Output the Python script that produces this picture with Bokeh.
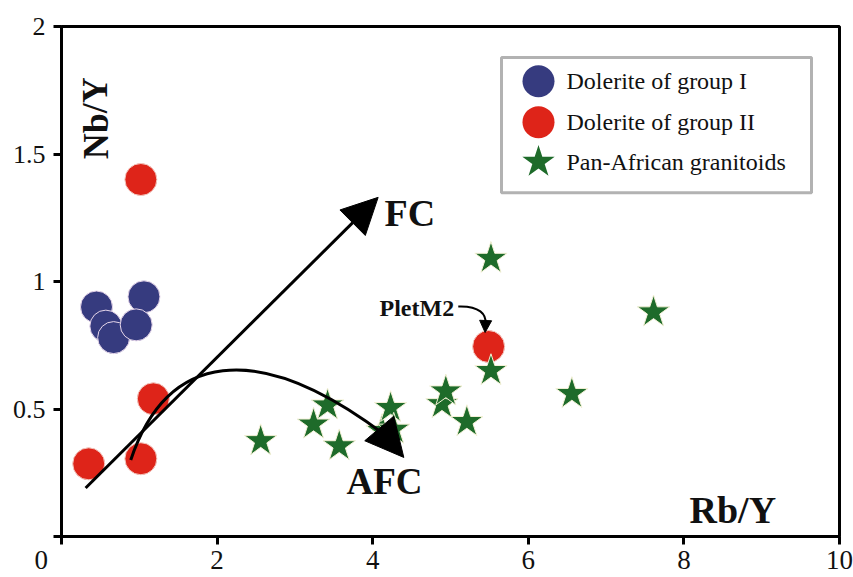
from bokeh.plotting import figure
from bokeh.models import Arrow, NormalHead, Label, Range1d, FixedTicker, BoxAnnotation
from bokeh.embed import file_html
from bokeh.resources import INLINE

# ---- data: Rb/Y (x) and Nb/Y (y) ----
g1_rby = [0.45, 0.57, 0.67, 1.06, 0.96]
g1_nby = [0.90, 0.825, 0.78, 0.94, 0.83]

g2_rby = [1.02, 1.18, 0.35, 1.02, 5.49]
g2_nby = [1.40, 0.54, 0.285, 0.305, 0.745]

gr_rby = [2.56, 3.24, 3.42, 3.57, 4.12, 4.23, 4.27, 4.89, 4.94, 5.21, 5.52, 5.52, 6.56, 7.61]
gr_nby = [0.375, 0.44, 0.515, 0.355, 0.415, 0.505, 0.42, 0.52, 0.57, 0.45, 0.65, 1.09, 0.56, 0.88]

x_ticks = [0, 2, 4, 6, 8, 10]
y_ticks = [0, 0.5, 1, 1.5, 2]

legend_labels = ["Dolerite of group I", "Dolerite of group II", "Pan-African granitoids"]

# trend paths (FC straight, AFC curved) in data units
fc_start, fc_end = (0.31, 0.19), (4.07, 1.33)
afc_path = [(0.89, 0.30), (1.35, 0.72), (2.5, 0.78), (4.15, 0.40)]
afc_tip = (4.40, 0.31)
plet_path = [(5.10, 0.902), (5.38, 0.905), (5.46, 0.87), (5.45, 0.835)]
plet_tip = (5.445, 0.80)

BLUE = "#363b7f"
RED = "#de2419"
GREEN = "#1e6b2a"
SERIF = "Liberation Serif"

# frame geometry (pixels) used for placing the key box
FL, FR, FT, FB = 61, 839, 26, 538
XR, YR = (0, 10), (0, 2)


def sx(px):
    return XR[0] + (px - FL) * (XR[1] - XR[0]) / (FR - FL)


def sy(py):
    return YR[0] + (FB - py) * (YR[1] - YR[0]) / (FB - FT)


p = figure(width=853, height=577, x_range=Range1d(*XR), y_range=Range1d(*YR),
           output_backend="svg", toolbar_location=None,
           min_border_left=FL, min_border_right=853 - FR,
           min_border_top=FT, min_border_bottom=577 - FB)
p.grid.visible = False
p.outline_line_color = "black"
p.outline_line_width = 3
p.background_fill_color = "white"
p.border_fill_color = "white"

p.xaxis.ticker = FixedTicker(ticks=x_ticks)
p.yaxis.ticker = FixedTicker(ticks=y_ticks)
p.axis.axis_line_width = 3
p.axis.axis_line_color = "black"
p.axis.major_tick_line_width = 3
p.axis.major_tick_out = 8
p.axis.major_tick_in = 0
p.axis.minor_tick_line_color = None
p.axis.major_label_text_font = SERIF
p.axis.major_label_text_font_style = "normal"
p.axis.major_label_text_color = "#111111"
p.xaxis.major_label_text_font_size = "27px"
p.yaxis.major_label_text_font_size = "26px"

# the x-axis "0" doubles as the origin label, nudged left with trailing em/en spaces
p.xaxis.major_label_overrides = {0: "0\u2003\u2002"}
p.yaxis.major_label_overrides = {0: ""}
p.xaxis.major_label_standoff = 0
p.yaxis.major_label_standoff = 8

# data points
p.scatter(g1_rby, g1_nby, marker="circle", size=32, fill_color=BLUE,
          line_color="#e6d6ea", line_width=1)
p.scatter(g2_rby, g2_nby, marker="circle", size=32, fill_color=RED,
          line_color="#f3c8c0", line_width=1)
p.scatter(gr_rby, gr_nby, marker="star", size=34, fill_color=GREEN,
          line_color="#f4f1d6", line_width=1)

# FC trend
p.add_layout(Arrow(x_start=fc_start[0], y_start=fc_start[1], x_end=fc_end[0], y_end=fc_end[1],
                   line_width=3, line_color="black",
                   end=NormalHead(size=36, fill_color="black", line_color="black")))

# AFC trend
(a0, a1, a2, a3) = afc_path
p.bezier(x0=[a0[0]], y0=[a0[1]], cx0=[a1[0]], cy0=[a1[1]], cx1=[a2[0]], cy1=[a2[1]],
         x1=[a3[0]], y1=[a3[1]], line_width=3, line_color="black")
p.add_layout(Arrow(x_start=a3[0], y_start=a3[1], x_end=afc_tip[0], y_end=afc_tip[1],
                   line_width=3, line_color="black",
                   end=NormalHead(size=38, fill_color="black", line_color="black")))

# PletM2 pointer
(b0, b1, b2, b3) = plet_path
p.bezier(x0=[b0[0]], y0=[b0[1]], cx0=[b1[0]], cy0=[b1[1]], cx1=[b2[0]], cy1=[b2[1]],
         x1=[b3[0]], y1=[b3[1]], line_width=2, line_color="black")
p.add_layout(Arrow(x_start=b3[0], y_start=b3[1], x_end=plet_tip[0], y_end=plet_tip[1],
                   line_width=2, line_color="black",
                   end=NormalHead(size=12, fill_color="black", line_color="black")))

# text annotations
bold = dict(text_font=SERIF, text_font_style="bold", text_color="#111111")
p.add_layout(Label(x=sx(95), y=sy(118), text="Nb/Y", angle=1.5708, text_align="center",
                   text_baseline="middle", text_font_size="36px", **bold))
p.add_layout(Label(x=sx(689), y=sy(511), text="Rb/Y", text_align="left",
                   text_baseline="middle", text_font_size="38px", **bold))
p.add_layout(Label(x=sx(384), y=sy(213), text="FC", text_align="left",
                   text_baseline="middle", text_font_size="38px", **bold))
p.add_layout(Label(x=sx(346), y=sy(483), text="AFC", text_align="left",
                   text_baseline="middle", text_font_size="37px", **bold))
p.add_layout(Label(x=sx(379), y=sy(309), text="PletM2", text_align="left",
                   text_baseline="middle", text_font_size="24px", **bold))

# key box
p.add_layout(BoxAnnotation(left=sx(501), right=sx(811), top=sy(57), bottom=sy(193),
                           fill_alpha=0, line_color="black", line_width=3))
key_y = [sy(81), sy(122), sy(162)]
key_x = sx(538)
p.scatter([key_x], [key_y[0]], marker="circle", size=32, fill_color=BLUE, line_color=None)
p.scatter([key_x], [key_y[1]], marker="circle", size=32, fill_color=RED, line_color=None)
p.scatter([key_x], [key_y[2]], marker="star", size=34, fill_color=GREEN, line_color=None)
for lbl, ky in zip(legend_labels, key_y):
    p.add_layout(Label(x=sx(566), y=ky, text=lbl, text_align="left", text_baseline="middle",
                       text_font=SERIF, text_font_size="24px", text_color="#111111"))

open("out.html", "w").write(file_html(p, INLINE))
